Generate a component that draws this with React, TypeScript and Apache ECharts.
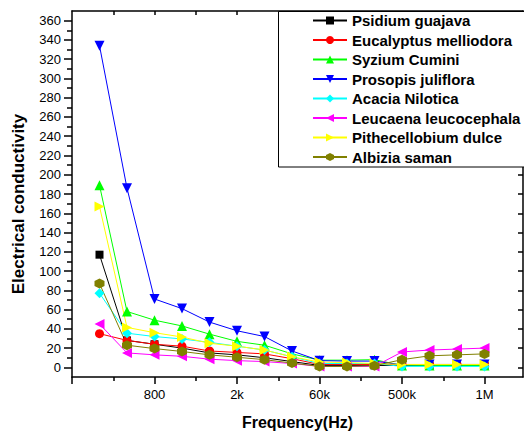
import React, { useEffect, useRef } from 'react';
import * as echarts from 'echarts';

// x positions of the 15 measured frequencies (index along the axis)
const pointIndex = [0, 1, 2, 3, 4, 5, 6, 7, 8, 9, 10, 11, 12, 13, 14];
const xLabelPositions = [2, 5, 8, 11, 14];
const xLabels = ['800', '2k', '60k', '500k', '1M'];
const xMajorTicks = [-1, 2, 5, 8, 11, 14];
const xMinorTicks = [0.5, 3.5, 6.5, 9.5, 12.5];
const xTopTicks = [0.5, 2, 3.5, 5, 6.5, 8, 9.5, 11, 12.5, 14];
const yLabelValues = [0, 20, 40, 60, 80, 100, 120, 140, 160, 180, 200, 220, 240, 260, 280, 300, 320, 340, 360];
const yMinorTicks = [10, 30, 50, 70, 90, 110, 130, 150, 170, 190, 210, 230, 250, 270, 290, 310, 330, 350];

const psidium = [117, 28, 24, 20, 15, 13, 10, 6, 2, 2, 2, 2, 2, 2, 2];
const eucalyptus = [35, 28, 24, 22, 17, 15.5, 14, 9, 3, 3, 3, 3, 3, 3, 3];
const syzium = [189, 58, 49, 43, 34.5, 27, 23, 14, 7.5, 7.5, 8, 2, 2, 2, 2];
const prosopis = [334, 186, 71, 61, 47, 38, 32, 17, 7, 6.5, 6.5, 2.5, 3, 3, 3];
const acacia = [77, 35.5, 32, 29.5, 26, 22, 18, 11, 4, 4, 4, 1, 1, 1, 1];
const leucaena = [45, 15, 13, 11.5, 8.5, 7, 6, 4, 1, 1, 1, 16, 18, 19, 20];
const pithecellobium = [167, 41.5, 36, 31.5, 25, 22, 18, 11, 5.5, 5, 4, 3, 3, 3, 3];
const albizia = [87, 23, 19.5, 16.5, 13, 10.5, 8, 4.5, 1, 1, 1.8, 8, 12, 13, 14];

const seriesNames = [
  'Psidium guajava',
  'Eucalyptus melliodora',
  'Syzium Cumini',
  'Prosopis juliflora',
  'Acacia Nilotica',
  'Leucaena leucocephala',
  'Pithecellobium dulce',
  'Albizia saman',
];
const seriesValues = [psidium, eucalyptus, syzium, prosopis, acacia, leucaena, pithecellobium, albizia];
const seriesColors = ['#000000', '#ff0000', '#00ff00', '#0000ff', '#00ffff', '#ff00ff', '#ffff00', '#808000'];
const hexagon = 'path://M0,-1L0.866,-0.5L0.866,0.5L0,1L-0.866,0.5L-0.866,-0.5Z';
const seriesSymbols = ['rect', 'circle', 'triangle', 'triangle', 'diamond', 'triangle', 'triangle', hexagon];
const seriesRotate = [0, 0, 0, 180, 0, 90, -90, 0];
const seriesSizes = [8, 9, 10, 10, 10, 10, 10, 10];

const FONT = 'Liberation Sans, Arial, sans-serif';

export default function App() {
  const ref = useRef<HTMLDivElement>(null);
  useEffect(() => {
    document.body.style.margin = '0';
    const chart = echarts.init(ref.current!, null, { renderer: 'svg' });
    const axisLineStyle = { color: '#000', width: 1.5 };
    const option: any = {
      animation: false,
      backgroundColor: '#fff',
      grid: { left: 72, right: 1, top: 11, bottom: 58 },
      xAxis: [
        {
          type: 'value', position: 'bottom', min: -1, max: 15.4,
          axisLine: { show: true, onZero: false, lineStyle: axisLineStyle },
          axisTick: { show: true, customValues: xMajorTicks, length: 7, lineStyle: axisLineStyle },
          axisLabel: {
            show: true, customValues: xLabelPositions, margin: 11, fontSize: 13, color: '#000', fontFamily: FONT,
            formatter: (v: number) => {
              const k = xLabelPositions.indexOf(Math.round(v));
              return k >= 0 ? xLabels[k] : '';
            },
          },
          splitLine: { show: false },
          name: 'Frequency(Hz)', nameLocation: 'middle', nameGap: 37,
          nameTextStyle: { fontSize: 16, fontWeight: 'bold', color: '#000', fontFamily: FONT },
        },
        {
          type: 'value', position: 'bottom', min: -1, max: 15.4,
          axisLine: { show: false, onZero: false },
          axisTick: { show: true, customValues: xMinorTicks, length: 4, lineStyle: axisLineStyle },
          axisLabel: { show: false }, splitLine: { show: false },
        },
        {
          type: 'value', position: 'top', min: -1, max: 15.4,
          axisLine: { show: true, onZero: false, lineStyle: axisLineStyle },
          axisTick: { show: true, inside: true, customValues: xTopTicks, length: 4, lineStyle: axisLineStyle },
          axisLabel: { show: false }, splitLine: { show: false },
        },
      ],
      yAxis: [
        {
          type: 'value', position: 'left', min: -10, max: 370,
          axisLine: { show: true, onZero: false, lineStyle: axisLineStyle },
          axisTick: { show: true, customValues: yLabelValues, length: 8, lineStyle: axisLineStyle },
          axisLabel: { show: true, customValues: yLabelValues, margin: 11, fontSize: 13, color: '#000', fontFamily: FONT },
          splitLine: { show: false },
        },
        {
          type: 'value', position: 'left', min: -10, max: 370,
          axisLine: { show: false, onZero: false },
          axisTick: { show: true, customValues: yMinorTicks, length: 5, lineStyle: axisLineStyle },
          axisLabel: { show: false }, splitLine: { show: false },
        },
        {
          type: 'value', position: 'right', min: -10, max: 370,
          axisLine: { show: true, onZero: false, lineStyle: axisLineStyle },
          axisTick: { show: true, inside: true, customValues: yLabelValues, length: 5, lineStyle: axisLineStyle },
          axisLabel: { show: false }, splitLine: { show: false },
        },
      ],
      legend: {
        orient: 'vertical', left: 312, top: 13,
        padding: 0,
        itemWidth: 34, itemHeight: 10, itemGap: 4.5,
        textStyle: { fontSize: 15, fontWeight: 'bold', color: '#000', fontFamily: FONT },
        data: seriesNames,
      },
      graphic: [
        {
          type: 'rect', z: 3,
          shape: { x: 278.5, y: 11.5, width: 270, height: 155.5 },
          style: { fill: '#fff', stroke: '#000', lineWidth: 1 },
        },
        {
          type: 'text', x: 18, y: 204, rotation: Math.PI / 2,
          style: {
            text: 'Electrical conductivity', fontSize: 17, fontWeight: 'bold', fontFamily: FONT,
            fill: '#000', align: 'center', verticalAlign: 'middle',
          },
        },
      ],
      series: seriesNames.map((name, i) => ({
        name,
        type: 'line',
        xAxisIndex: 0,
        yAxisIndex: 0,
        data: pointIndex.map((x, j) => [x, seriesValues[i][j]]),
        symbol: seriesSymbols[i],
        symbolRotate: seriesRotate[i],
        symbolSize: seriesSizes[i],
        showSymbol: true,
        lineStyle: { color: seriesColors[i], width: 1 },
        itemStyle: { color: seriesColors[i] },
        emphasis: { disabled: true },
        clip: false,
      })),
    };
    chart.setOption(option);
    return () => chart.dispose();
  }, []);
  return <div ref={ref} style={{ width: 524, height: 435, position: 'absolute', left: 0, top: 0 }} />;
}
